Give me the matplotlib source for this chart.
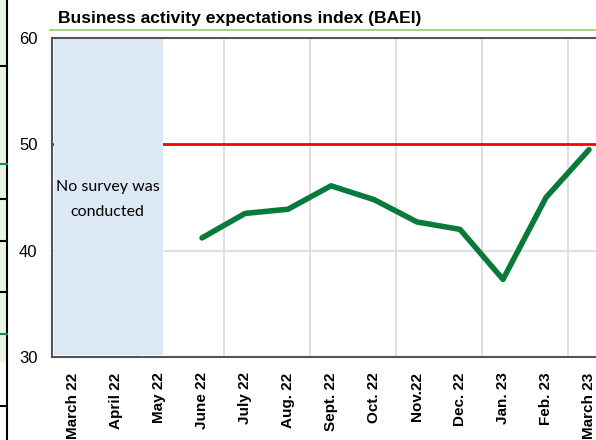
import matplotlib.pyplot as plt
import numpy as np
from matplotlib.lines import Line2D
from matplotlib.patches import Rectangle

months = ['March 22', 'April 22', 'May 22', 'June 22', 'July 22', 'Aug. 22', 'Sept. 22',
          'Oct. 22', 'Nov.22', 'Dec. 22', 'Jan. 23', 'Feb. 23', 'March 23']
baei = [np.nan, np.nan, np.nan, 41.2, 43.5, 43.9, 46.1, 44.8, 42.7, 42.0, 37.3, 45.0, 49.5]
threshold = 50
title = 'Business activity expectations index (BAEI)'
note = 'No survey was\nconducted'

W, H = 596, 440
fig = plt.figure(figsize=(W / 100, H / 100), dpi=100)

# page decoration on the left edge
fig.add_artist(Rectangle((0, (H - 362) / H), 7 / W, 362 / H, transform=fig.transFigure,
                         facecolor='#e9f4e2', edgecolor='none'))
fig.add_artist(Line2D([7 / W, 7 / W], [0, 1], transform=fig.transFigure, color='black', lw=1.5))
for yy in [66, 199, 241, 292, 406]:
    fig.add_artist(Line2D([0, 7 / W], [(H - yy) / H] * 2, transform=fig.transFigure, color='black', lw=1.5))
for yy in [164, 334]:
    fig.add_artist(Line2D([0, 7 / W], [(H - yy) / H] * 2, transform=fig.transFigure, color='#1a8a4a', lw=1.5))

# title and green rule
fig.text(58 / W, (H - 18) / H, title, fontsize=12.6, fontweight='bold',
         family='Liberation Sans', va='center', ha='left')
fig.add_artist(Line2D([50 / W, 1], [(H - 30) / H] * 2, transform=fig.transFigure, color='#8cd070', lw=1.2))

# axes: category i centred at 73 + 43 i px, plot runs past right edge
left, right, top, bottom = 51.5, 610.5, 38, 357
ax = fig.add_axes([left / W, (H - bottom) / H, (right - left) / W, (bottom - top) / H])
x = np.arange(len(months))
ax.set_xlim(-0.5, len(months) - 0.5)
ax.set_ylim(30, 60)

for b in np.arange(1.5, len(months), 2):
    ax.axvline(b, color='#d9d9d9', lw=1.2, zorder=0)
ax.axhline(40, color='#d9d9d9', lw=1.2, zorder=0)
ax.axhline(threshold, color='#ff0000', lw=2, zorder=1)

ax.axvspan(-0.44, 2.1, ymin=0.005, ymax=1, color='#dce9f5', lw=0, zorder=2)
ax.text(0.8, 44.85, note, ha='center', va='center', fontsize=11.5,
        family='Lato', linespacing=2.0, zorder=3)

ax.plot(x, baei, color='#0a7a3c', lw=4, solid_capstyle='round', zorder=4)

ax.set_yticks([30, 40, 50, 60])
ax.set_xticks(x)
ax.set_xticklabels(months, rotation=90, fontsize=11, fontweight='bold', family='Liberation Sans')
for lab in ax.get_yticklabels():
    lab.set_family('Liberation Sans')
    lab.set_fontsize(12)
ax.tick_params(axis='both', length=0)
ax.tick_params(axis='x', pad=11)
ax.tick_params(axis='y', pad=10)
for s in ['left', 'top', 'bottom']:
    ax.spines[s].set_color('#555555')
    ax.spines[s].set_linewidth(1.5)
ax.spines['right'].set_visible(False)

fig.savefig('out.png', dpi=100)
